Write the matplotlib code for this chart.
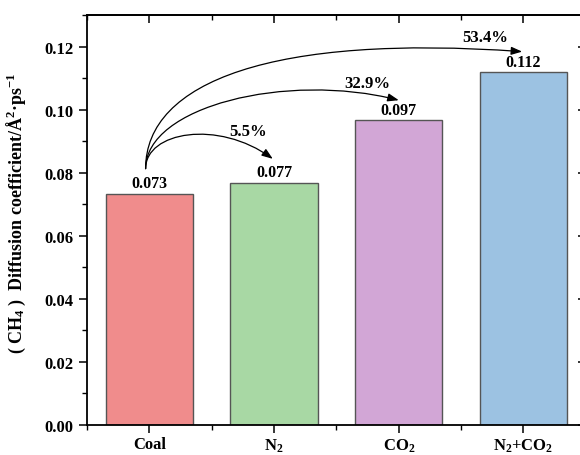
import matplotlib
matplotlib.use("Agg")
import matplotlib.pyplot as plt
from matplotlib.patches import FancyArrowPatch
from matplotlib.path import Path
from matplotlib.ticker import FixedLocator, MultipleLocator

plt.rcParams['font.family'] = ['Liberation Serif', 'DejaVu Serif']
plt.rcParams['font.weight'] = 'bold'
plt.rcParams['mathtext.fontset'] = 'custom'
plt.rcParams['mathtext.rm'] = 'Liberation Serif:bold'
plt.rcParams['mathtext.it'] = 'Liberation Serif:bold'
plt.rcParams['mathtext.bf'] = 'Liberation Serif:bold'
plt.rcParams['mathtext.default'] = 'rm'

categories = ["Coal", "N$_2$", "CO$_2$", "N$_2$+CO$_2$"]
values = [0.0733, 0.0768, 0.0967, 0.1118]
value_labels = ["0.073", "0.077", "0.097", "0.112"]
colors = ["#F08C8C", "#A8D8A4", "#D2A6D6", "#9CC2E2"]
pct_labels = ["5.5%", "32.9%", "53.4%"]

fig = plt.figure(figsize=(5.8, 4.56), dpi=100)
ax = fig.add_axes([0.15, 0.0658, 0.860, 0.899])

x = list(range(len(categories)))
ax.bar(x, values, width=0.7, color=colors, edgecolor="#555555", linewidth=1.0, zorder=2)

for xi, v, lab in zip(x, values, value_labels):
    ax.text(xi, v + 0.0008, lab, ha="center", va="bottom", fontsize=11.5, fontweight="bold")

# curved arrows from Coal bar to the other bars
start = (x[0] - 0.03, values[0] + 0.008)
ctrl = [
    ((x[0] - 0.03, 0.093), (0.55, 0.097)),
    ((x[0] - 0.03, 0.101), (1.1, 0.112)),
    ((x[0] - 0.03, 0.109), (1.0, 0.124)),
]
ends = [(x[1] - 0.01, values[1] + 0.0076),
        (x[2], values[2] + 0.0063),
        (x[3] - 0.01, values[3] + 0.0066)]
pct_pos = [(0.79, 0.0933), (1.75, 0.1083), (2.69, 0.1229)]

for (c1, c2), end, lab, pos in zip(ctrl, ends, pct_labels, pct_pos):
    path = Path([start, c1, c2, end], [Path.MOVETO, Path.CURVE4, Path.CURVE4, Path.CURVE4])
    arr = FancyArrowPatch(path=path, arrowstyle="-|>,head_length=0.6,head_width=0.22",
                          mutation_scale=11, color="black", linewidth=0.9,
                          transform=ax.transData, zorder=3)
    ax.add_patch(arr)
    ax.text(pos[0], pos[1], lab, ha="center", va="center", fontsize=12, fontweight="bold")

ax.set_xlim(-0.5, 3.5)
ax.set_ylim(0, 0.13)
ax.set_xticks(x)
ax.set_xticklabels(categories, fontsize=12, fontweight="bold")
ax.xaxis.set_minor_locator(FixedLocator([-0.5, 0.5, 1.5, 2.5, 3.5]))
ax.set_yticks([0, 0.02, 0.04, 0.06, 0.08, 0.10, 0.12])
ax.set_yticklabels(["0.00", "0.02", "0.04", "0.06", "0.08", "0.10", "0.12"], fontsize=12, fontweight="bold")
ax.yaxis.set_minor_locator(MultipleLocator(0.01))
ax.tick_params(which="major", direction="out", length=6, width=1.1)
ax.tick_params(which="minor", direction="out", length=3.5, width=1.0)
ax.tick_params(axis="x", which="major", pad=2)

for s in ax.spines.values():
    s.set_linewidth(1.3)

top = ax.secondary_xaxis("top")
top.set_xticks(x)
top.xaxis.set_minor_locator(FixedLocator([-0.5, 0.5, 1.5, 2.5, 3.5]))
top.tick_params(which="major", direction="in", length=6, width=1.1, labeltop=False)
top.tick_params(which="minor", direction="in", length=3.5, width=1.0)
top.spines["top"].set_linewidth(1.3)

right = ax.secondary_yaxis("right")
right.set_yticks([0, 0.02, 0.04, 0.06, 0.08, 0.10, 0.12])
right.tick_params(which="major", direction="in", length=6, width=1.1, labelright=False)
right.spines["right"].set_linewidth(1.3)

ax.set_ylabel("( CH$_4$ )  Diffusion coefficient/Å$^{2}$·ps$^{-1}$", fontsize=13, fontweight="bold")
ax.yaxis.set_label_coords(-0.118, 0.52)

fig.savefig("out.png", dpi=100)
